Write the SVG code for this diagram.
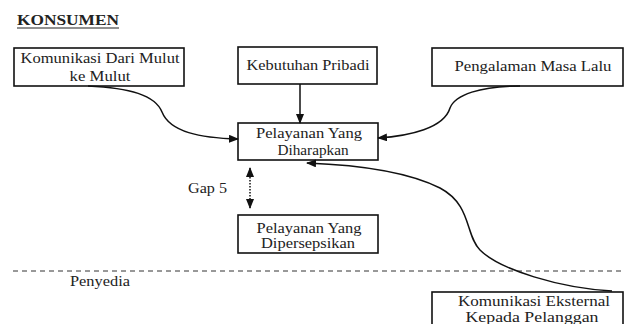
<svg xmlns="http://www.w3.org/2000/svg" width="624" height="324" viewBox="0 0 624 324">
<style>
.box{fill:#fff;stroke:#111;stroke-width:1.6}
.t{font-family:"Liberation Serif","DejaVu Serif",serif;font-size:15px;fill:#222}
.c{text-anchor:middle}
.con{fill:none;stroke:#111;stroke-width:1.5}
</style>
<defs>
<marker id="ah" markerWidth="10" markerHeight="8" refX="9" refY="4" orient="auto" markerUnits="userSpaceOnUse">
<path d="M0,0 L10,4 L0,8 Z" fill="#111"/>
</marker>
<marker id="ahs" markerWidth="10" markerHeight="8" refX="9" refY="4" orient="auto-start-reverse" markerUnits="userSpaceOnUse">
<path d="M0,0 L10,4 L0,8 Z" fill="#111"/>
</marker>
</defs>
<rect width="624" height="324" fill="#fff"/>
<g id="title">
<text class="t" x="17" y="25" font-weight="bold" textLength="102" lengthAdjust="spacingAndGlyphs" font-size="14">KONSUMEN</text>
<line x1="17" y1="28" x2="119" y2="28" stroke="#222" stroke-width="1.2"/>
</g>
<g id="wom">
<rect class="box" x="14" y="48" width="170" height="38"/>
<text class="t c" x="100" y="63" textLength="159" lengthAdjust="spacingAndGlyphs">Komunikasi Dari Mulut</text>
<text class="t c" x="100" y="81" textLength="61" lengthAdjust="spacingAndGlyphs">ke Mulut</text>
</g>
<g id="kebutuhan">
<rect class="box" x="238" y="47" width="139" height="37"/>
<text class="t c" x="308" y="70" textLength="123" lengthAdjust="spacingAndGlyphs">Kebutuhan Pribadi</text>
</g>
<g id="pengalaman">
<rect class="box" x="432" y="48" width="191" height="38"/>
<text class="t c" x="533" y="71" textLength="157" lengthAdjust="spacingAndGlyphs">Pengalaman Masa Lalu</text>
</g>
<g id="diharapkan">
<rect class="box" x="238" y="123" width="140" height="37"/>
<text class="t c" x="309" y="138" textLength="106" lengthAdjust="spacingAndGlyphs">Pelayanan Yang</text>
<text class="t c" x="313" y="155" textLength="71" lengthAdjust="spacingAndGlyphs">Diharapkan</text>
</g>
<g id="dipersepsikan">
<rect class="box" x="238" y="215" width="140" height="38"/>
<text class="t c" x="309" y="233" textLength="105" lengthAdjust="spacingAndGlyphs">Pelayanan Yang</text>
<text class="t c" x="308" y="248" textLength="94" lengthAdjust="spacingAndGlyphs">Dipersepsikan</text>
</g>
<g id="eksternal">
<rect class="box" x="432" y="292" width="191" height="40"/>
<text class="t c" x="534" y="306" textLength="152" lengthAdjust="spacingAndGlyphs">Komunikasi Eksternal</text>
<text class="t c" x="532" y="322" textLength="133" lengthAdjust="spacingAndGlyphs">Kepada Pelanggan</text>
</g>
<g id="divider">
<line x1="13" y1="271" x2="624" y2="271" stroke="#333" stroke-width="1" stroke-dasharray="5,4"/>
<text class="t" x="70" y="286" textLength="60" lengthAdjust="spacingAndGlyphs">Penyedia</text>
</g>
<g id="gap5">
<text class="t" x="188" y="193" textLength="39" lengthAdjust="spacingAndGlyphs">Gap 5</text>
</g>
<g id="connectors">
<line class="con" x1="300" y1="84" x2="300" y2="123" marker-end="url(#ah)"/>
<path class="con" d="M88,86 C130,88 155,95 162,112 C170,132 200,138 238,139" marker-end="url(#ah)"/>
<path class="con" d="M520,86 C480,86 455,95 450,108 C444,128 410,136 378,138" marker-end="url(#ah)"/>
<path class="con" d="M612,291 C560,288 500,270 480,250 C465,235 472,205 440,188 C410,173 360,165 307,163" marker-end="url(#ah)"/>
<line class="con" x1="250" y1="168" x2="250" y2="208" stroke-dasharray="1.5,1.5" stroke-width="1.3" marker-start="url(#ahs)" marker-end="url(#ahs)"/>
</g>
</svg>
